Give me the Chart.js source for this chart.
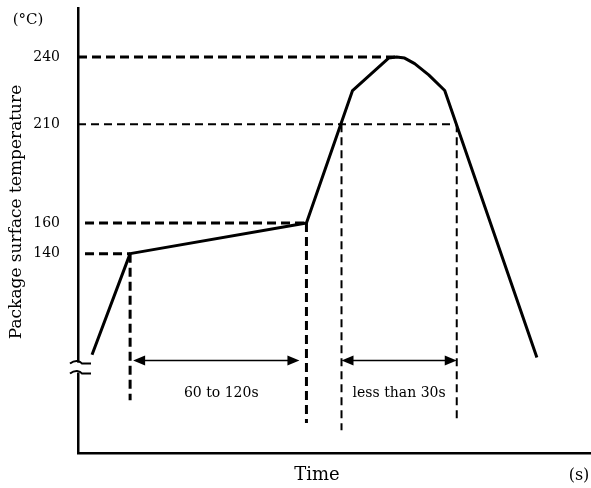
<!DOCTYPE html>
<html>
<head>
<meta charset="utf-8">
<script src="https://cdn.jsdelivr.net/npm/chart.js@4.4.1/dist/chart.umd.min.js"></script>
<style>
  html, body { margin: 0; padding: 0; background: #fff; }
</style>
</head>
<body>
<canvas id="profile" width="591" height="488"></canvas>
<script>
// reflow profile (time axis is only schematic)
const timeS = [7, 26, 114, 137, 155, 159, 163, 168, 175, 183, 229];
const tempC = [69, 140, 160, 225, 239.5, 240, 239.5, 237, 232, 225, 67];
const tempTicks = [140, 160, 210, 240];

// dashed guides [t1, T1, t2, T2]
const guidesThick = [[0, 240, 159, 240], [3.5, 160, 114, 160], [3.5, 140, 26, 140], [26, 140, 26, 37], [114, 160, 114, 21]];
const guidesThin = [[0, 210, 189, 210], [131.5, 210, 131.5, 16], [189, 210, 189, 22]];

// dimension arrows
const spanFrom = [27.5, 131.5];
const spanTo = [110.5, 189];
const spanLabels = ['60 to 120s', 'less than 30s'];
const spanTemp = 65;
const breakTemp = 60;

// the temperature axis is not uniform in the drawing: value -> fraction of axis height
const yKnots = [[0, 0], [140, 0.448], [160, 0.517], [210, 0.739], [240, 0.890], [262, 1]];

const FONT = "'DejaVu Serif', serif";

function knotFrac(v) {
  for (let i = 1; i < yKnots.length; i++) {
    const [v0, f0] = yKnots[i - 1], [v1, f1] = yKnots[i];
    if (v <= v1 || i === yKnots.length - 1) return f0 + (v - v0) / (v1 - v0) * (f1 - f0);
  }
}
function fracKnot(f) {
  for (let i = 1; i < yKnots.length; i++) {
    const [v0, f0] = yKnots[i - 1], [v1, f1] = yKnots[i];
    if (f <= f1 || i === yKnots.length - 1) return v0 + (f - f0) / (f1 - f0) * (v1 - v0);
  }
}

class KnotScale extends Chart.LinearScale {
  static id = 'knotted';
  static defaults = Chart.LinearScale.defaults;
  getPixelForValue(v) {
    return this.bottom - knotFrac(v) * (this.bottom - this.top);
  }
  getValueForPixel(p) {
    return fracKnot((this.bottom - p) / (this.bottom - this.top));
  }
  buildTicks() {
    return tempTicks.map(v => ({ value: v }));
  }
}
Chart.register(KnotScale);

function seg(g) {
  return [{ x: g[0], y: g[1] }, { x: g[2], y: g[3] }];
}

const datasets = [{
  data: timeS.map((t, i) => ({ x: t, y: tempC[i] })),
  borderColor: '#000',
  borderWidth: 3,
  borderJoinStyle: 'round',
  pointRadius: 0,
  tension: 0
}];
guidesThick.forEach(g => datasets.push({
  data: seg(g), borderColor: '#000', borderWidth: 3, borderDash: [9, 5], pointRadius: 0
}));
guidesThin.forEach(g => datasets.push({
  data: seg(g), borderColor: '#000', borderWidth: 2, borderDash: [8, 5], pointRadius: 0
}));

const extras = {
  id: 'extras',
  afterDatasetsDraw(chart) {
    const { ctx } = chart;
    const xs = chart.scales.x, ys = chart.scales.y;
    ctx.save();
    ctx.strokeStyle = '#000';
    ctx.fillStyle = '#000';

    // axis break
    const by = ys.getPixelForValue(breakTemp);
    const ax = chart.chartArea.left;
    ctx.fillStyle = '#fff';
    ctx.fillRect(ax - 3, by - 5, 6, 10);
    ctx.fillStyle = '#000';
    ctx.lineWidth = 2;
    [by - 5, by + 5].forEach(y => {
      ctx.beginPath();
      ctx.moveTo(ax - 8, y + 1);
      ctx.bezierCurveTo(ax - 3, y - 3, ax + 2, y - 2, ax + 4, y + 1);
      ctx.lineTo(ax + 13, y + 1);
      ctx.stroke();
    });

    // arrows
    const ay = ys.getPixelForValue(spanTemp);
    ctx.font = '14px ' + FONT;
    ctx.textAlign = 'center';
    ctx.textBaseline = 'middle';
    spanFrom.forEach((f, i) => {
      const x1 = xs.getPixelForValue(f), x2 = xs.getPixelForValue(spanTo[i]);
      ctx.lineWidth = 1.5;
      ctx.beginPath();
      ctx.moveTo(x1 + 10, ay);
      ctx.lineTo(x2 - 10, ay);
      ctx.stroke();
      ctx.beginPath();
      ctx.moveTo(x1, ay); ctx.lineTo(x1 + 12, ay - 5); ctx.lineTo(x1 + 12, ay + 5); ctx.closePath();
      ctx.fill();
      ctx.beginPath();
      ctx.moveTo(x2, ay); ctx.lineTo(x2 - 12, ay - 5); ctx.lineTo(x2 - 12, ay + 5); ctx.closePath();
      ctx.fill();
      ctx.fillText(spanLabels[i], (x1 + x2) / 2 + (i === 0 ? 5 : 0), ay + 33);
    });

    // axis texts
    ctx.font = '15px ' + FONT;
    ctx.fillText('(°C)', 28, 20);
    ctx.font = '18px ' + FONT;
    ctx.fillText('Time', 317, 475);
    ctx.font = '16px ' + FONT;
    ctx.fillText('(s)', 579, 476);
    ctx.translate(17, 212);
    ctx.rotate(-Math.PI / 2);
    ctx.font = '17px ' + FONT;
    ctx.fillText('Package surface temperature', 0, 0);
    ctx.restore();
  }
};

new Chart(document.getElementById('profile'), {
  type: 'line',
  data: { datasets: datasets },
  plugins: [extras],
  options: {
    responsive: false,
    animation: false,
    layout: { padding: { top: 8, right: 0, bottom: 0, left: 0 } },
    plugins: { legend: { display: false }, tooltip: { enabled: false } },
    elements: { line: { fill: false } },
    scales: {
      x: {
        type: 'linear',
        min: 0,
        max: 256,
        grid: { display: false },
        border: { display: true, color: '#000', width: 2.5 },
        ticks: { display: false },
        afterFit: s => { s.height = 35; s.paddingLeft = 0; s.paddingRight = 0; }
      },
      y: {
        type: 'knotted',
        min: 0,
        max: 262,
        grid: { display: false },
        border: { display: true, color: '#000', width: 2.5 },
        ticks: {
          padding: 10,
          color: '#000',
          font: { family: FONT, size: 14 },
          callback: v => String(v)
        },
        afterFit: s => { s.width = 78; s.paddingTop = 0; s.paddingBottom = 0; }
      }
    }
  }
});
</script>
</body>
</html>
